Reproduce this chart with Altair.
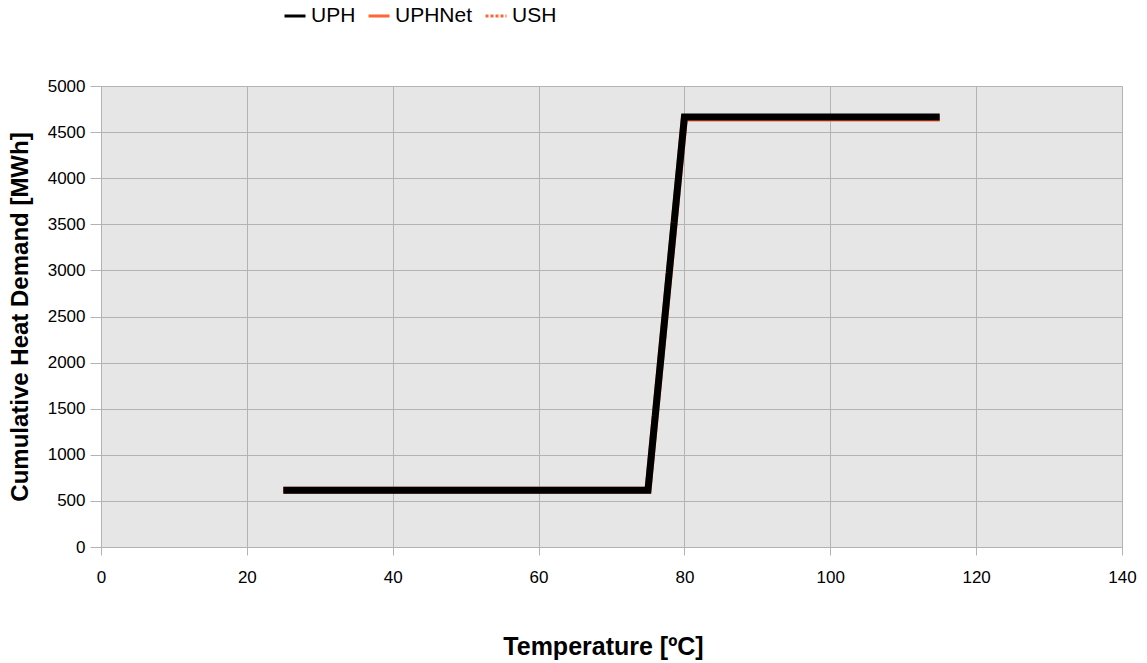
import altair as alt
import pandas as pd

# Cumulative heat demand curves (temperature in ºC, demand in MWh)
uph_temp = [25, 75, 80, 115]
uph_mwh = [615, 615, 4665, 4665]

uphnet_temp = [25, 75, 80, 115]
uphnet_mwh = [615, 615, 4652, 4652]

ush_temp = [25, 75, 80, 115]
ush_mwh = [615, 615, 4652, 4652]

series = ["UPH", "UPHNet", "USH"]
colors = ["#000000", "#ff6633", "#ff6633"]
dashes = [[1, 0], [1, 0], [3, 2]]

rows = []
for name, xs, ys in [("USH", ush_temp, ush_mwh),
                     ("UPHNet", uphnet_temp, uphnet_mwh),
                     ("UPH", uph_temp, uph_mwh)]:
    for t, v in zip(xs, ys):
        rows.append({"series": name, "temp": t, "mwh": v})
df = pd.DataFrame(rows)

font = "Liberation Sans"
grey = "#b3b3b3"

x_enc = alt.X("temp:Q", scale=alt.Scale(domain=[0, 140], nice=False),
              axis=alt.Axis(values=list(range(0, 141, 20)), format="d",
                            labelFlush=False,
                            title="Temperature [ºC]", titleX=502,
                            titlePadding=49, titleFontSize=25, titleFontWeight="bold",
                            titleFont=font, labelFont=font, labelFontSize=17,
                            labelColor="#000000", titleColor="#000000",
                            labelPadding=14, tickSize=8, tickColor=grey,
                            domainColor=grey, gridColor=grey))
y_enc = alt.Y("mwh:Q", scale=alt.Scale(domain=[0, 5000], nice=False),
              axis=alt.Axis(values=list(range(0, 5001, 500)), format="d",
                            labelFlush=False,
                            title="Cumulative Heat Demand [MWh]",
                            titlePadding=15, titleFontSize=24, titleFontWeight="bold",
                            titleFont=font, labelFont=font, labelFontSize=17,
                            labelColor="#000000", titleColor="#000000",
                            labelPadding=5, tickSize=11, tickColor=grey,
                            domainColor=grey, gridColor=grey))
color_enc = alt.Color("series:N", scale=alt.Scale(domain=series, range=colors),
                      legend=alt.Legend(title=None, orient="none", legendX=182,
                                        legendY=-82, direction="horizontal",
                                        columns=3, labelFont=font, labelFontSize=21,
                                        labelColor="#000000", symbolType="stroke",
                                        symbolStrokeWidth=3, symbolSize=441,
                                        columnPadding=6, labelOffset=4))
dash_enc = alt.StrokeDash("series:N", scale=alt.Scale(domain=series, range=dashes),
                          legend=None)


def layer(name, width):
    return (alt.Chart(df)
            .transform_filter(alt.datum.series == name)
            .mark_line(strokeWidth=width, strokeCap="butt", strokeJoin="miter")
            .encode(x=x_enc, y=y_enc, color=color_enc, strokeDash=dash_enc,
                    order="temp:Q"))


chart = (alt.layer(layer("USH", 3), layer("UPHNet", 7), layer("UPH", 7))
         .properties(width=1021, height=461,
                     padding={"left": 101, "top": 86, "right": 25, "bottom": 116},
                     autosize=alt.AutoSizeParams(type="none"),
                     background="#ffffff")
         .configure_view(fill="#e6e6e6", stroke=None))

chart.save("out.html", embed_options={"renderer": "svg", "actions": False})
